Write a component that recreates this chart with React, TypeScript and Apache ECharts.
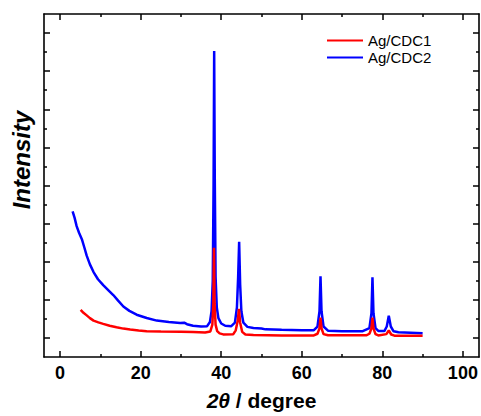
import React, { useEffect, useRef } from "react";
import * as echarts from "echarts";

// 2θ (degree) and intensity (a.u.)
const cdc2Theta = [3.1, 3.6, 4.1, 4.7, 5.4, 6.0, 6.6, 7.4, 8.3, 9.4, 10.7, 12.0, 13.2, 14.4, 15.7, 17.2, 19.0, 21.5, 24.0, 27.0, 29.8, 30.8, 31.5, 33.0, 35.0, 36.5, 37.2, 37.6, 37.9, 38.1, 38.25, 38.4, 38.6, 38.9, 39.3, 40.0, 41.0, 42.5, 43.4, 43.9, 44.2, 44.45, 44.7, 45.0, 45.5, 46.5, 48, 50, 51, 55, 60, 63, 63.9, 64.4, 64.65, 64.9, 65.4, 66.5, 70, 75, 76.8, 77.3, 77.55, 77.8, 78.3, 79, 80.5, 81.1, 81.6, 82.1, 82.8, 84, 87, 90];
const cdc2Intensity = [3322, 3150, 2934, 2760, 2591, 2380, 2159, 1930, 1728, 1540, 1384, 1250, 1126, 980, 824, 710, 610, 525, 455, 420, 395, 400, 360, 320, 300, 310, 420, 700, 1500, 4000, 7532, 4200, 1600, 800, 520, 380, 320, 310, 400, 800, 1600, 2521, 1400, 700, 400, 290, 260, 250, 225, 215, 205, 205, 300, 700, 1617, 700, 300, 190, 175, 175, 260, 650, 1591, 650, 260, 185, 180, 300, 584, 300, 175, 150, 135, 120];

const cdc1Theta = [5.1, 5.8, 6.6, 7.4, 8.3, 9.5, 10.7, 12.3, 14.0, 15.7, 17.4, 19.5, 21.5, 25, 30, 33, 36, 37.3, 37.8, 38.05, 38.2, 38.35, 38.6, 39.0, 39.6, 40.5, 43.0, 43.6, 44.1, 44.4, 44.7, 45.2, 46, 48, 55, 63, 63.9, 64.4, 64.65, 64.9, 65.4, 66.5, 76, 76.8, 77.3, 77.55, 77.8, 78.3, 79, 81.0, 81.6, 82.2, 83, 90];
const cdc1Intensity = [739, 660, 592, 520, 455, 410, 369, 320, 282, 245, 222, 195, 178, 170, 163, 155, 145, 170, 350, 900, 2366, 900, 350, 180, 120, 93, 100, 200, 450, 765, 400, 160, 90, 75, 67, 67, 110, 250, 532, 250, 100, 70, 68, 110, 250, 532, 250, 100, 65, 100, 196, 90, 60, 55];

const seriesNames = ["Ag/CDC1", "Ag/CDC2"];
const xMajorTicks = [0, 20, 40, 60, 80, 100];
const xMinorTicks = [10, 30, 50, 70, 90];
const yMajorTicks = [0, 1000, 2000, 3000, 4000, 5000, 6000, 7000, 8000];
const yMinorTicks = [500, 1500, 2500, 3500, 4500, 5500, 6500, 7500];

const FONT = "'Liberation Sans', Arial, sans-serif";

export default function App() {
  const ref = useRef<HTMLDivElement>(null);
  useEffect(() => {
    if (!ref.current) return;
    const chart = echarts.init(ref.current, undefined, { renderer: "svg" });
    const zip = (xs: number[], ys: number[]) => xs.map((x, i) => [x, ys[i]]);
    const lineCol = "#000";
    const mkX = (pos: "top" | "bottom", ticks: number[], len: number, showLine: boolean, showLabel: boolean) => ({
      type: "value",
      position: pos,
      min: -4,
      max: 104,
      axisLine: { show: showLine, onZero: false, lineStyle: { color: lineCol, width: 1.6 } },
      axisTick: { show: true, inside: true, length: len, customValues: ticks, lineStyle: { color: lineCol, width: 1.5 } },
      axisLabel: showLabel
        ? { show: true, customValues: ticks, margin: 7, color: "#000", fontFamily: FONT, fontWeight: "bold", fontSize: 18 }
        : { show: false },
      splitLine: { show: false },
    });
    const mkY = (pos: "left" | "right", ticks: number[], len: number, showLine: boolean) => ({
      type: "value",
      position: pos,
      min: -500,
      max: 8500,
      axisLine: { show: showLine, onZero: false, lineStyle: { color: lineCol, width: 1.6 } },
      axisTick: { show: true, inside: true, length: len, customValues: ticks, lineStyle: { color: lineCol, width: 1.5 } },
      axisLabel: { show: false },
      splitLine: { show: false },
    });
    const xMain: any = mkX("bottom", xMajorTicks, 6, true, true);
    xMain.name = "{it|2θ}{n| / degree}";
    xMain.nameLocation = "middle";
    xMain.nameGap = 33;
    xMain.nameTextStyle = {
      rich: {
        it: { fontFamily: FONT, fontWeight: "bold", fontStyle: "italic", fontSize: 21, color: "#000" },
        n: { fontFamily: FONT, fontWeight: "bold", fontSize: 21, color: "#000" },
      },
    };
    chart.setOption({
      animation: false,
      backgroundColor: "#fff",
      grid: { left: 44, top: 14, right: 2, bottom: 53, containLabel: false },
      legend: {
        orient: "vertical",
        left: 327,
        top: 32,
        padding: 0,
        icon: "rect",
        itemWidth: 36,
        itemHeight: 2,
        itemGap: 0,
        data: seriesNames,
        textStyle: { fontFamily: FONT, fontSize: 15, color: "#000", lineHeight: 17 },
      },
      xAxis: [
        xMain,
        mkX("bottom", xMinorTicks, 3, false, false),
        mkX("top", xMajorTicks, 6, true, false),
        mkX("top", xMinorTicks, 3, false, false),
      ],
      yAxis: [
        mkY("left", yMajorTicks, 6, true),
        mkY("left", yMinorTicks, 3, false),
        mkY("right", yMajorTicks, 6, true),
        mkY("right", yMinorTicks, 3, false),
      ],
      graphic: [
        {
          type: "text",
          x: 21,
          y: 160,
          rotation: Math.PI / 2,
          style: {
            text: "Intensity",
            fontFamily: FONT,
            fontWeight: "bold",
            fontStyle: "italic",
            fontSize: 24,
            fill: "#000",
            textAlign: "center",
            textVerticalAlign: "middle",
          },
        },
      ],
      series: [
        {
          name: seriesNames[0],
          type: "line",
          xAxisIndex: 0,
          yAxisIndex: 0,
          symbol: "none",
          data: zip(cdc1Theta, cdc1Intensity),
          lineStyle: { color: "#ff0000", width: 2.5 },
          itemStyle: { color: "#ff0000" },
          z: 3,
        },
        {
          name: seriesNames[1],
          type: "line",
          xAxisIndex: 0,
          yAxisIndex: 0,
          symbol: "none",
          data: zip(cdc2Theta, cdc2Intensity),
          lineStyle: { color: "#0000ff", width: 2.5 },
          itemStyle: { color: "#0000ff" },
          z: 2,
        },
      ],
    });
    return () => chart.dispose();
  }, []);
  return (
    <div
      ref={ref}
      style={{ position: "fixed", left: 0, top: 0, width: 481, height: 416, background: "#fff" }}
    />
  );
}
